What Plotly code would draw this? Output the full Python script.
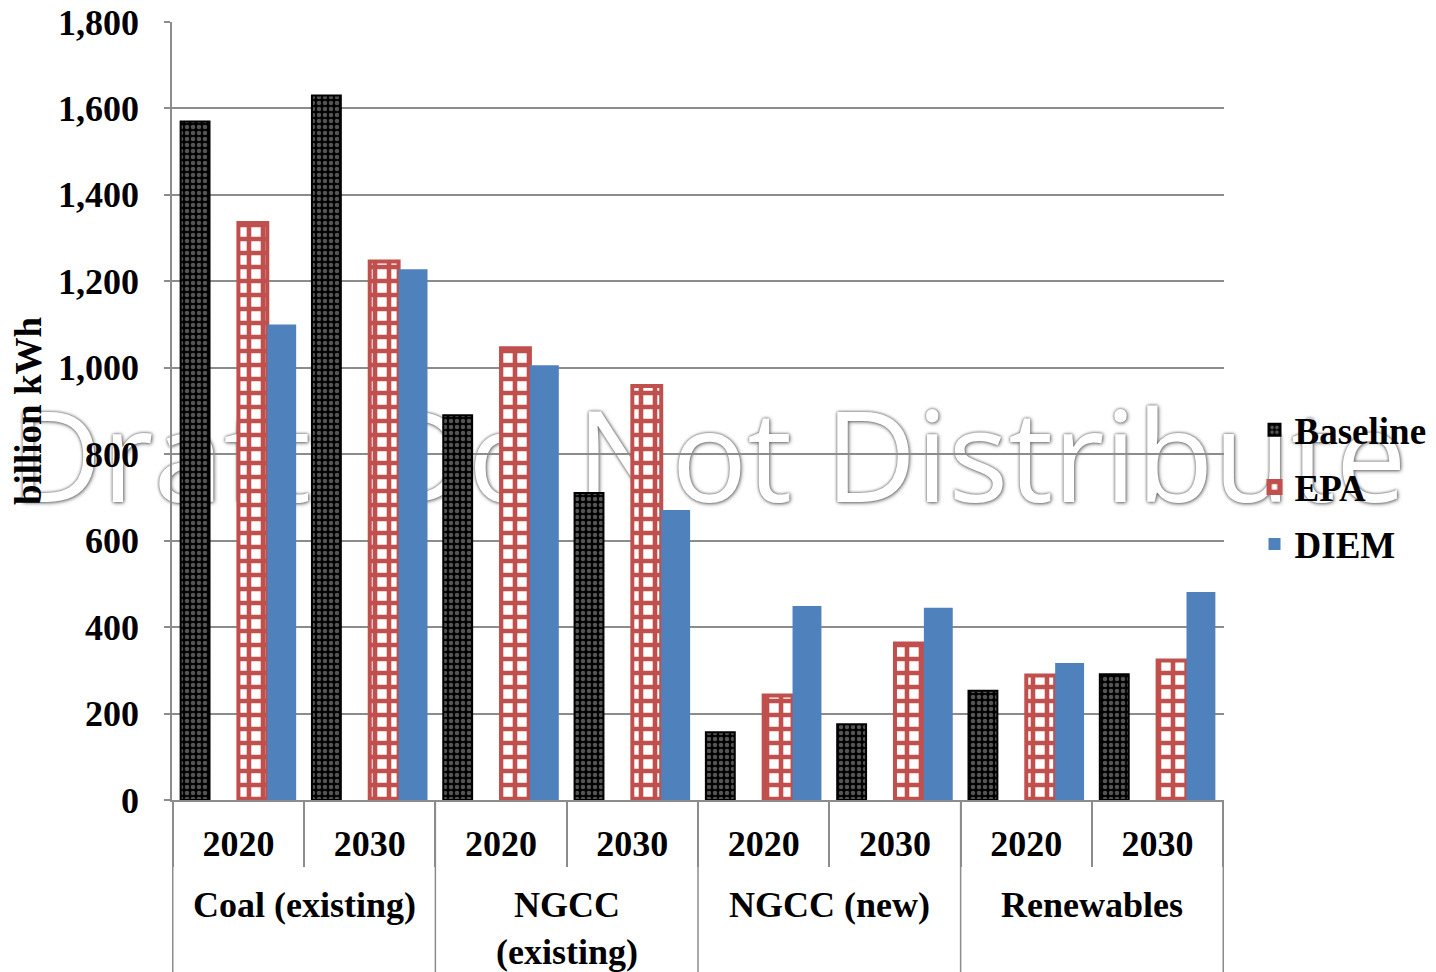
import plotly.graph_objects as go

categories = ["Coal (existing)", "NGCC<br>(existing)", "NGCC (new)", "Renewables"]
years = ["2020", "2030"]

baseline = [1570, 1630, 890, 710, 157, 175, 253, 291]
epa = [1335, 1246, 1045, 958, 242, 362, 288, 323]
diem = [1100, 1228, 1006, 671, 449, 445, 317, 481]
spacer = [None] * 8

y_ticks = list(range(0, 1801, 200))

# one x key per (category, year) pair; tick text shows the year
x_keys = [f"{c}|{y}" for c in categories for y in years]
x_text = [y for _ in categories for y in years]

FONT = "Liberation Serif"
GRAY = "#8c8c8c"
RED = "#C0504D"
BLUE = "#4F81BD"

fig = go.Figure()
fig.add_trace(go.Bar(
    x=x_keys, y=baseline, name="Baseline", legendgroup="a",
    marker=dict(color="black", line=dict(color="black", width=2),
                pattern=dict(shape=".", fgcolor="#a8a8a8", bgcolor="black", size=6, solidity=0.45)),
))
fig.add_trace(go.Bar(x=x_keys, y=spacer, name=" ", showlegend=False, hoverinfo="skip"))
fig.add_trace(go.Bar(
    x=x_keys, y=epa, name="EPA", legendgroup="b",
    marker=dict(color=RED, line=dict(color=RED, width=4),
                pattern=dict(shape="+", fgcolor=RED, bgcolor="white", size=14,
                             solidity=0.55, fgopacity=1, fillmode="replace")),
))
fig.add_trace(go.Bar(
    x=x_keys, y=diem, name="DIEM", legendgroup="c",
    marker=dict(color=BLUE, line=dict(width=0)),
))

fig.update_layout(
    width=1428, height=964,
    margin=dict(l=164, r=212, t=14, b=172, autoexpand=False),
    paper_bgcolor="white", plot_bgcolor="white",
    barmode="group", bargap=0.12, bargroupgap=0,
    font=dict(family=FONT, size=36, color="black", weight="bold"),
    legend=dict(x=1.029, y=0.402, xanchor="left", yanchor="middle",
                font=dict(family=FONT, size=37, color="black", weight="bold"),
                tracegroupgap=6, bgcolor="rgba(0,0,0,0)"),
    showlegend=True,
)

fig.update_yaxes(
    range=[0, 1800], tickvals=y_ticks, tickformat=",",
    showgrid=True, gridcolor=GRAY, gridwidth=1.5,
    showline=True, linecolor=GRAY, linewidth=1.5,
    ticks="outside", ticklen=6, tickcolor=GRAY, tickwidth=1.5,
    ticklabelstandoff=18, ticklabeloverflow="allow",
    zeroline=False,
    tickfont=dict(family=FONT, size=36, color="black", weight="bold"),
    title=dict(text="billion kWh", standoff=9,
               font=dict(family=FONT, size=37, color="black", weight="bold")),
)

fig.update_xaxes(
    type="category", categoryorder="array", categoryarray=x_keys,
    tickvals=x_keys, ticktext=x_text,
    ticks="outside", tickson="boundaries", ticklen=65, tickcolor=GRAY, tickwidth=1.5,
    ticklabelstandoff=11, ticklabeloverflow="allow",
    showline=True, linecolor=GRAY, linewidth=1.5,
    showgrid=False,
    tickfont=dict(family=FONT, size=36, color="black", weight="bold"),
)

# category group labels and full-height dividers
n_years = len(years)
for i, cat in enumerate(categories):
    fig.add_annotation(
        x=i * n_years + (n_years - 1) / 2, xref="x",
        y=-0.1065, yref="paper", yanchor="top",
        text=cat, showarrow=False,
        font=dict(family=FONT, size=36, color="black", weight="bold"),
    )
for i in range(len(categories) + 1):
    fig.add_shape(type="line", xref="x", yref="paper",
                  x0=i * n_years - 0.5, x1=i * n_years - 0.5, y0=0, y1=-0.23,
                  line=dict(color=GRAY, width=1.5), layer="above")

wm_text = "Draft: Do Not Distribute"
label_font = dict(family="Open Sans", size=126, color="white", weight="normal",
                  shadow="0px 0px 3px #555555, 1px 1px 4px #888888")
fig.add_shape(type="rect", xref="paper", yref="paper",
              x0=0.45, x1=0.57, y0=0.40, y1=0.47,
              fillcolor="rgba(0,0,0,0)", line=dict(width=0), layer="below",
              label=dict(text=wm_text, font=label_font, textposition="middle center"))

fig.write_html("out.html")
